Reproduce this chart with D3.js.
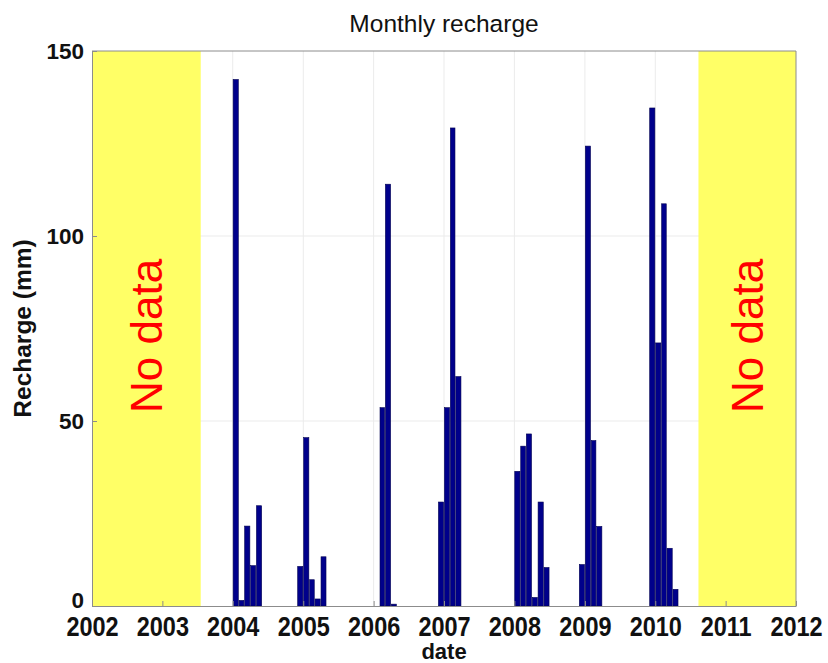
<!DOCTYPE html>
<html>
<head>
<meta charset="utf-8">
<script src="https://cdn.jsdelivr.net/npm/d3@7"></script>
<style>
  body { margin: 0; background: #fff; }
  svg { display: block; font-family: "Liberation Sans", Arial, sans-serif; }
</style>
</head>
<body>
<svg id="chart" width="828" height="663"></svg>
<script>
/********/
/* data */
/********/

const months = [
  "2004-01", "2004-02", "2004-03", "2004-04", "2004-05",
  "2004-12", "2005-01", "2005-02", "2005-03", "2005-04",
  "2006-02", "2006-03", "2006-04",
  "2006-12", "2007-01", "2007-02", "2007-03",
  "2008-01", "2008-02", "2008-03", "2008-04", "2008-05", "2008-06",
  "2008-12", "2009-01", "2009-02", "2009-03",
  "2009-12", "2010-01", "2010-02", "2010-03", "2010-04",
];
const recharge = [
  142.3, 1.5, 21.6, 10.9, 27.1,
  10.7, 45.5, 7.1, 1.9, 13.3,
  53.6, 114.0, 0.5,
  28.1, 53.6, 129.2, 62.0,
  36.4, 43.2, 46.5, 2.3, 28.1, 10.4,
  11.2, 124.3, 44.7, 21.5,
  134.6, 71.1, 108.7, 15.6, 4.5,
];
const noDataSpans = [
  ["2002-01-01", "2003-07-19"],
  ["2010-08-13", "2012-01-01"],
];
const yearTicks = d3.range(2002, 2013);
const yTicks = [0, 50, 100, 150];

/********/
/* view */
/********/

const margin = { top: 51, right: 32, bottom: 57, left: 92 };
const width = 828, height = 663;
const parseMonth = d3.timeParse("%Y-%m");
const parseDay = d3.timeParse("%Y-%m-%d");

const x = d3
  .scaleTime()
  .domain([new Date(2002, 0, 1), new Date(2012, 0, 1)])
  .range([margin.left, width - margin.right]);
const y = d3
  .scaleLinear()
  .domain([0, 150])
  .range([height - margin.bottom, margin.top]);

const svg = d3.select("#chart");

// grid
svg
  .append("g")
  .selectAll("line")
  .data(yearTicks.slice(1, -1))
  .enter()
  .append("line")
  .attr("x1", d => x(new Date(d, 0, 1)))
  .attr("x2", d => x(new Date(d, 0, 1)))
  .attr("y1", y(0))
  .attr("y2", y(150))
  .attr("stroke", "#ebebeb");
svg
  .append("g")
  .selectAll("line")
  .data(yTicks.slice(1, -1))
  .enter()
  .append("line")
  .attr("x1", x.range()[0])
  .attr("x2", x.range()[1])
  .attr("y1", d => y(d))
  .attr("y2", d => y(d))
  .attr("stroke", "#ebebeb");

// no data patches
const patches = svg
  .append("g")
  .selectAll("g")
  .data(noDataSpans)
  .enter()
  .append("g");
patches
  .append("rect")
  .attr("x", d => x(parseDay(d[0])))
  .attr("width", d => x(parseDay(d[1])) - x(parseDay(d[0])))
  .attr("y", y(150))
  .attr("height", y(0) - y(150))
  .attr("fill", "#ffff66");
patches
  .append("text")
  .attr(
    "transform",
    d =>
      `translate(${(x(parseDay(d[0])) + x(parseDay(d[1]))) / 2 + 16}, ${y(73)}) rotate(-90)`,
  )
  .attr("text-anchor", "middle")
  .attr("font-size", 44)
  .attr("fill", "#ff0000")
  .text("No data");

// bars
svg
  .append("g")
  .selectAll("rect")
  .data(months.map((m, i) => ({ date: parseMonth(m), value: recharge[i] })))
  .enter()
  .append("rect")
  .attr("x", d => x(d.date) + 0.4)
  .attr("width", d => x(d3.timeMonth.offset(d.date, 1)) - x(d.date) - 0.8)
  .attr("y", d => y(d.value))
  .attr("height", d => y(0) - y(d.value))
  .attr("fill", "#00008b")
  .attr("stroke", "#000050")
  .attr("stroke-width", 0.6);

// axes
const xAxis = svg
  .append("g")
  .attr("transform", `translate(0, ${y(0)})`)
  .call(
    d3
      .axisBottom(x)
      .tickValues(yearTicks.map(d => new Date(d, 0, 1)))
      .tickFormat(d3.timeFormat("%Y"))
      .tickSizeInner(-5)
      .tickSizeOuter(0)
      .tickPadding(0),
  );
xAxis.select(".domain").attr("stroke", "#8c8c8c");
xAxis.selectAll(".tick line").attr("stroke", "#8c8c8c");
xAxis
  .selectAll("text")
  .attr("font-size", 23.5)
  .attr("font-weight", "bold")
  .attr("font-family", "Liberation Sans, Arial, sans-serif")
  .attr("fill", "#111")
  .attr("dy", null)
  .attr("y", null)
  .attr("transform", "translate(0, 30) scale(1, 1.2)");

const yAxis = svg
  .append("g")
  .attr("transform", `translate(${x.range()[0]}, 0)`)
  .call(
    d3
      .axisLeft(y)
      .tickValues(yTicks)
      .tickFormat(d3.format("d"))
      .tickSizeInner(-5)
      .tickSizeOuter(0)
      .tickPadding(8),
  );
yAxis.select(".domain").attr("stroke", "#8c8c8c");
yAxis.selectAll(".tick line").attr("stroke", "#8c8c8c");
yAxis
  .selectAll("text")
  .attr("font-size", 22.5)
  .attr("font-weight", "bold")
  .attr("font-family", "Liberation Sans, Arial, sans-serif")
  .attr("fill", "#111");
yAxis.selectAll(".tick").filter(d => d === 0).select("text").attr("dy", "0.05em");

// box top / right
svg
  .append("path")
  .attr(
    "d",
    `M${x.range()[0]},${y(150)}H${x.range()[1]}V${y(0)}`,
  )
  .attr("fill", "none")
  .attr("stroke", "#8c8c8c");

// labels
svg
  .append("text")
  .attr("x", (x.range()[0] + x.range()[1]) / 2)
  .attr("y", 32)
  .attr("text-anchor", "middle")
  .attr("font-size", 24.5)
  .attr("fill", "#111")
  .text("Monthly recharge");

svg
  .append("text")
  .attr("x", (x.range()[0] + x.range()[1]) / 2)
  .attr("y", 659)
  .attr("text-anchor", "middle")
  .attr("font-size", 22)
  .attr("font-weight", "bold")
  .attr("fill", "#111")
  .text("date");

svg
  .append("text")
  .attr("transform", `translate(31, ${y(75)}) rotate(-90)`)
  .attr("text-anchor", "middle")
  .attr("font-size", 24.5)
  .attr("font-weight", "bold")
  .attr("fill", "#111")
  .text("Recharge (mm)");
</script>
</body>
</html>
